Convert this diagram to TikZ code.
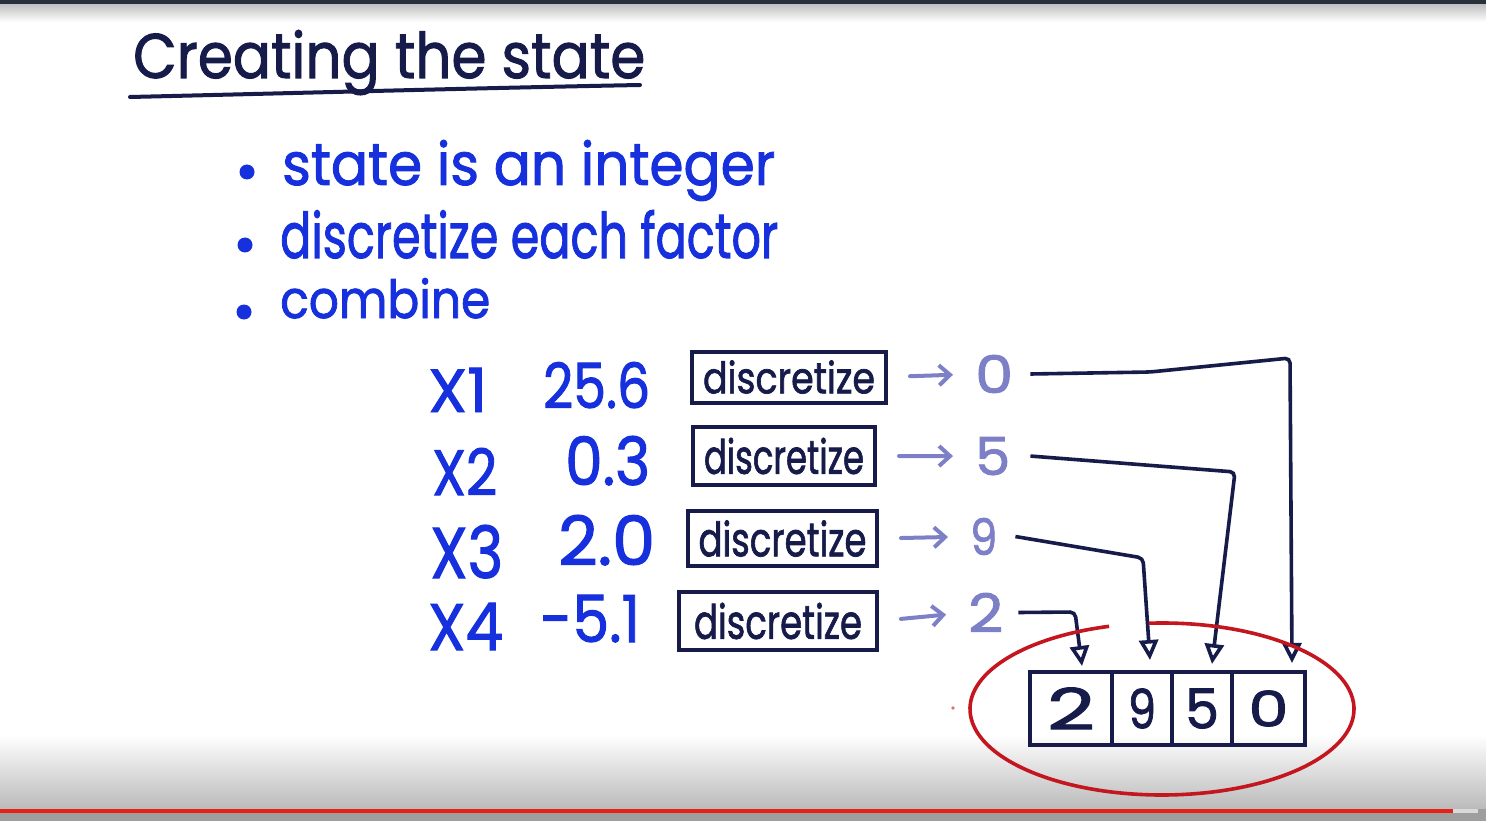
\documentclass[tikz,border=0pt]{standalone}
\usepackage{fontspec}
\setmainfont{Poppins}[FakeBold=1.6]
\usepackage{graphicx}
\usetikzlibrary{arrows.meta}
\definecolor{ink}{HTML}{161B4A}
\definecolor{pen}{HTML}{1530DC}
\definecolor{lav}{HTML}{7D80C6}
\definecolor{redink}{HTML}{C3161E}
\definecolor{topbar}{HTML}{27313B}
\definecolor{progress}{HTML}{E62117}
\begin{document}
\begin{tikzpicture}[x=1pt,y=-1pt,
  txt/.style={inner sep=0pt, anchor=base west},
  dbox/.style={draw=ink, line width=4pt, inner sep=0pt, text=ink},
  cell/.style={draw=ink, line width=4pt, inner sep=0pt, minimum height=73pt, text=ink},
  conn/.style={draw=ink, line width=3.6pt, rounded corners=5pt,
    -{Triangle[open,length=20pt,width=19pt,line width=3.6pt]}},
  larrow/.style={draw=lav, line width=4pt, line cap=round,
    -{Straight Barb[length=11pt,width=20pt,line width=4pt]}, shorten <=22pt, shorten >=22pt},
  dot/.style={fill=pen}
]
% background
\fill[white] (0,0) rectangle (1486,821);
\useasboundingbox (0,0) rectangle (1486,821);
\shade[top color=white, bottom color=black!27] (0,735) rectangle (1486,809);
\shade[top color=black!25, bottom color=white] (0,4) rectangle (1486,22);
\fill[topbar] (0,0) rectangle (1486,4);
\fill[black!38] (0,809) rectangle (1486,821);
\fill[progress] (0,809) rectangle (1453,813);
\fill[black!15] (1453,809) rectangle (1478,813);

% title
\node[txt, text=ink] (title) at (133,78) {\resizebox{512pt}{48pt}{Creating the state}};
\draw[ink, line width=4pt, line cap=round] (130,97) .. controls (300,93) and (480,88) .. (640,85);

% bullets
\fill[dot] (247,172) circle (7.5pt);
\fill[dot] (245,245) circle (7.5pt);
\fill[dot] (244,312) circle (7.5pt);
\node[txt, text=pen] (b1) at (282,185) {\resizebox{493pt}{45pt}{state is an integer}};
\node[txt, text=pen] (b2) at (280,258) {\resizebox{498pt}{48pt}{discretize each factor}};
\node[txt, text=pen] (b3) at (280,318) {\resizebox{210pt}{40pt}{combine}};

% factors
\node[txt, text=pen] (x1) at (428,412) {\resizebox{59pt}{44pt}{X1}};
\node[txt, text=pen] (v1) at (543,408) {\resizebox{107pt}{46pt}{25.6}};
\node[txt, text=pen] (x2) at (432,495) {\resizebox{65pt}{47pt}{X2}};
\node[txt, text=pen] (v2) at (565,485) {\resizebox{85pt}{49pt}{0.3}};
\node[txt, text=pen] (x3) at (430,578) {\resizebox{73pt}{53pt}{X3}};
\node[txt, text=pen] (v3) at (558,565) {\resizebox{97pt}{50pt}{2.0}};
\node[txt, text=pen] (x4) at (428,650) {\resizebox{75pt}{47pt}{X4}};
\node[txt, text=pen] (v4) at (540,642) {\resizebox{100pt}{47pt}{-5.1}};

% discretize boxes
\node[dbox, minimum width=194pt, minimum height=51pt] (d1) at (789,377) {\resizebox{172pt}{33pt}{discretize}};
\node[dbox, minimum width=182pt, minimum height=58pt] (d2) at (784,456) {\resizebox{160pt}{36pt}{discretize}};
\node[dbox, minimum width=189pt, minimum height=55pt] (d3) at (782.5,538.5) {\resizebox{168pt}{36pt}{discretize}};
\node[dbox, minimum width=198pt, minimum height=58pt] (d4) at (778,621) {\resizebox{168pt}{36pt}{discretize}};

% discretized values
\node[txt, text=lav] (n0) at (975,393) {\resizebox{38pt}{38pt}{0}};
\node[txt, text=lav] (n5) at (975,475) {\resizebox{35pt}{38pt}{5}};
\node[txt, text=lav] (n9) at (970,555) {\resizebox{27pt}{37pt}{9}};
\node[txt, text=lav] (n2) at (968,632) {\resizebox{35pt}{39pt}{2}};

\draw[larrow] (d1.east) -- (n0.west);
\draw[larrow] (d2.east) -- (n5.west);
\draw[larrow] (d3.east) -- (n9.west);
\draw[larrow] (d4.east) -- (n2.west);

% combined state
\node[cell, minimum width=82pt] (c1) at (1071,708.5) {\resizebox{48pt}{42pt}{2}};
\node[cell, minimum width=60pt] (c2) at (1142,708.5) {\resizebox{28pt}{40pt}{9}};
\node[cell, minimum width=60pt] (c3) at (1202,708.5) {\resizebox{34pt}{40pt}{5}};
\node[cell, minimum width=73pt] (c4) at (1268.5,708.5) {\resizebox{40pt}{36pt}{0}};

% connectors
\coordinate (k0a) at (1150,372);
\coordinate (k0) at (1290,358);
\coordinate (k5) at (1235,472);
\coordinate (k9) at (1143,558);
\coordinate (k2) at (1075,612);
\draw[conn] ([xshift=17pt]n0.east) -- (k0a) -- (k0) -- ([xshift=23.5pt,yshift=7pt]c4.north);
\draw[conn] ([xshift=20pt]n5.east) -- (k5) -- ([xshift=10pt,yshift=6pt]c3.north);
\draw[conn] ([xshift=18pt]n9.east) -- (k9) -- ([xshift=8pt,yshift=10pt]c2.north);
\draw[conn] ([xshift=15pt]n2.east) -- (k2) -- ([xshift=11pt,yshift=4pt]c1.north);

% red ring
\draw[redink, line width=3.6pt] (1162,709) ++(266:192 and 86)
  arc[start angle=266, end angle=614, x radius=192, y radius=86];
\fill[redink!60] (953,708) circle (1.8pt);
\end{tikzpicture}
\end{document}
